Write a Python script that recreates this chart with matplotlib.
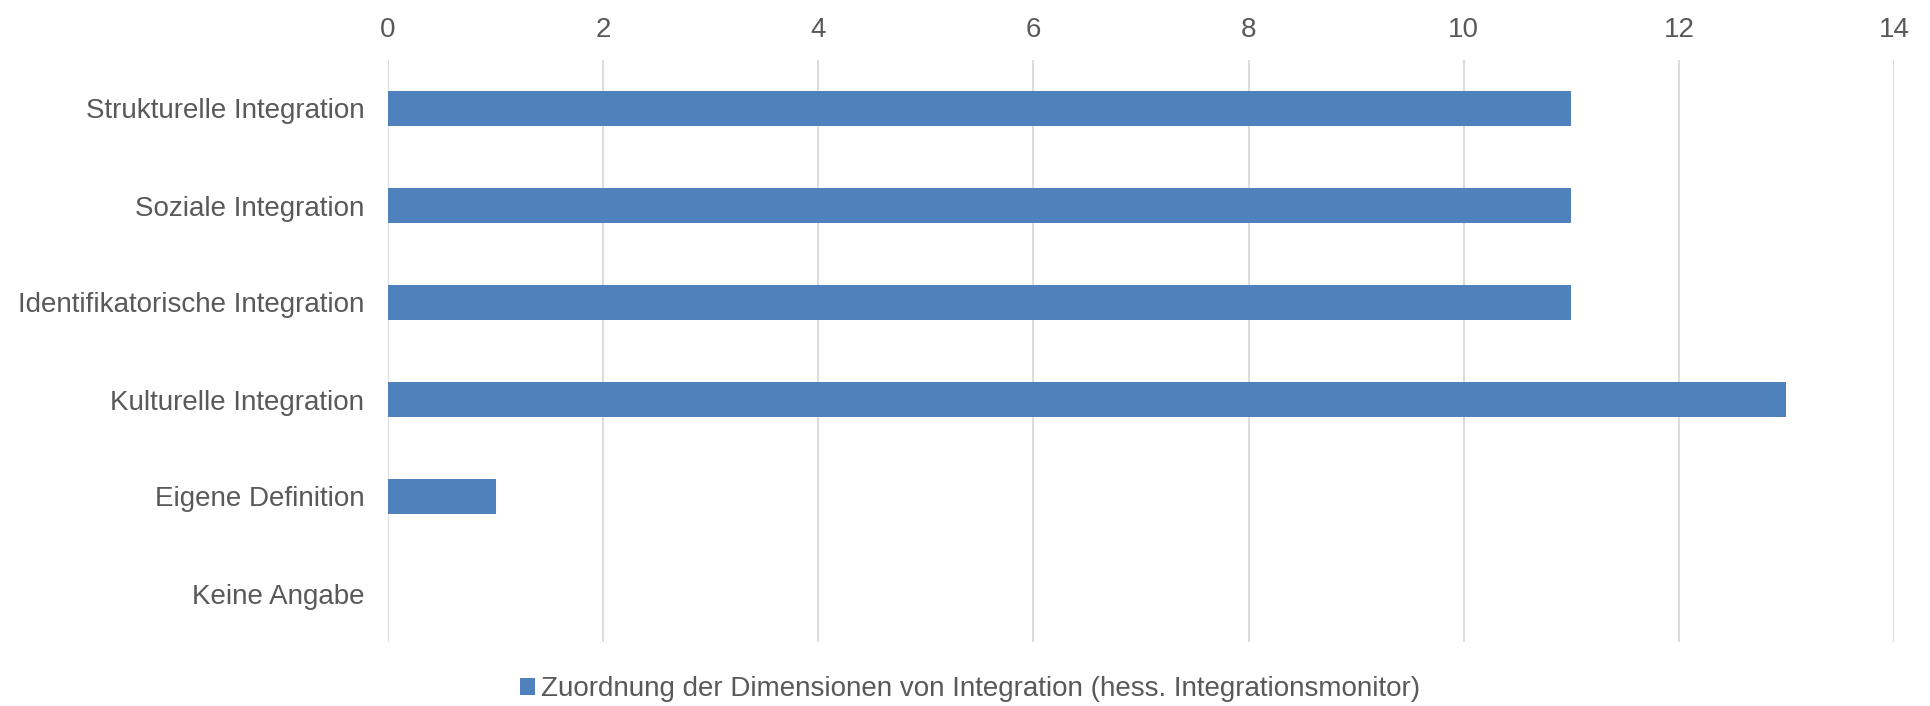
import matplotlib
matplotlib.use("Agg")
import matplotlib.pyplot as plt
from matplotlib.patches import Patch

categories = ["Strukturelle Integration", "Soziale Integration",
              "Identifikatorische Integration", "Kulturelle Integration",
              "Eigene Definition", "Keine Angabe"]
values = [11, 11, 11, 13, 1, 0]
series_name = "Zuordnung der Dimensionen von Integration (hess. Integrationsmonitor)"
xticks = [0, 2, 4, 6, 8, 10, 12, 14]

plt.rcParams['font.family'] = ['Liberation Sans', 'DejaVu Sans']
text_color = "#595959"
bar_color = "#4f81bd"
grid_color = "#d9d9d9"

fig = plt.figure(figsize=(19.30, 7.06), dpi=100)
ax = fig.add_axes([388/1930, 1-642/706, (1894-388)/1930, (642-60)/706])

y = list(range(len(categories)))
ax.barh(y, values, height=0.357, color=bar_color, zorder=3)
ax.set_ylim(len(categories)-0.5, -0.5)
ax.set_xlim(0, 14)
ax.set_xticks(xticks)
ax.set_yticks(y)
ax.set_yticklabels(categories)
ax.xaxis.tick_top()
ax.tick_params(axis='both', length=0, labelsize=20, labelcolor=text_color)
ax.tick_params(axis='x', pad=12.5)
ax.tick_params(axis='y', pad=17)
ax.grid(axis='x', color=grid_color, linewidth=1.3, zorder=0)
ax.grid(axis='y', visible=False)
for s in ax.spines.values():
    s.set_visible(False)

handle = Patch(facecolor=bar_color, edgecolor='none')
fig.legend([handle], [series_name], loc='center', bbox_to_anchor=(970/1930, 1-689/706),
           frameon=False, fontsize=20, labelcolor=text_color,
           handlelength=0.55, handleheight=0.55, handletextpad=0.2)

fig.savefig("out.png", dpi=100)
